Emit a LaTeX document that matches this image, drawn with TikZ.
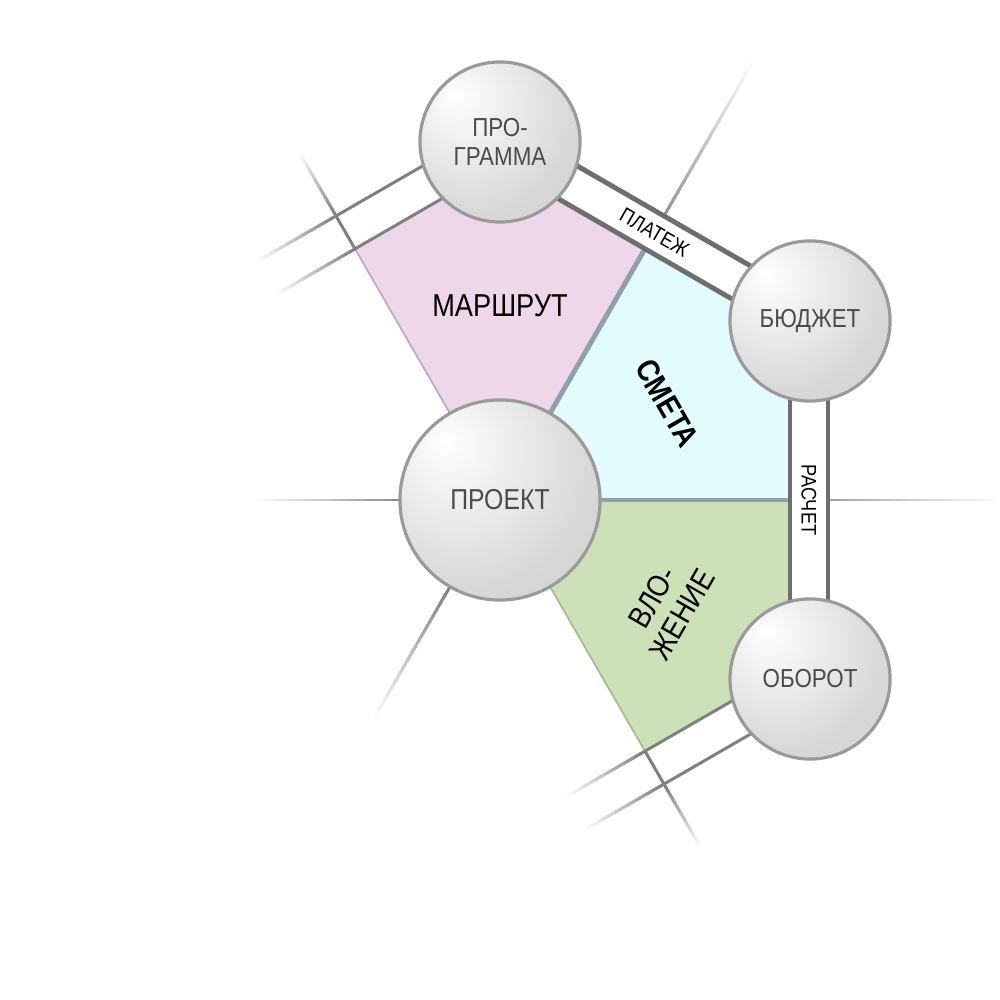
\documentclass[tikz,border=0pt]{standalone}
\usepackage{fontspec}
\setmainfont{Liberation Sans}[FakeStretch=0.86]
\usepackage{tikz}
\usetikzlibrary{calc}

\definecolor{pinkfill}{RGB}{237,215,233}
\definecolor{cyanfill}{RGB}{226,251,253}
\definecolor{greenfill}{RGB}{204,225,184}
\definecolor{sepcol}{RGB}{143,159,176}
\definecolor{pinkedge}{RGB}{196,168,194}
\definecolor{greenedge}{RGB}{163,189,147}
\definecolor{bandgray}{RGB}{128,128,128}
\definecolor{banddk}{RGB}{110,110,110}
\definecolor{orbline}{RGB}{154,154,154}
\definecolor{labelgray}{RGB}{75,75,75}

\pgfdeclareradialshading{orbshade}{\pgfpoint{-14bp}{15bp}}{gray(0bp)=(1); gray(8bp)=(0.96); gray(30bp)=(0.85); gray(72bp)=(0.74)}

\tikzset{
  orbnode/.style={circle, draw=orbline, line width=0.9pt, shade, shading=orbshade,
    minimum size=1.6cm, inner sep=0pt, align=center, text=labelgray,
    font=\fontsize{7.4}{8.3}\selectfont},
  sep/.style={draw=sepcol, line width=1.4pt},
  thinband/.style={draw=bandgray, line width=0.85pt},
  darkband/.style={draw=banddk, line width=1.4pt},
  zone/.style={text=black, font=\fontsize{9}{10}\selectfont, align=center},
  tag/.style={text=black, font=\fontsize{6}{7}\selectfont, inner sep=0pt}
}

% 渐隐线: 起点, 终点, 起点灰度
\newcommand\fadeln[4][0.85pt]{%
  \foreach \k in {0,...,19}{%
    \pgfmathsetmacro\ta{\k/20}%
    \pgfmathsetmacro\tb{min(1,(\k+1.6)/20)}%
    \pgfmathtruncatemacro\sh{#4*(20-\k)/20}%
    \draw[line width=#1, draw=black!\sh] ($#2!\ta!#3$) -- ($#2!\tb!#3$);
  }}

\begin{document}
\begin{tikzpicture}[x=0.01cm, y=0.01cm]
      \useasboundingbox (-500,-500) rectangle (500,500);
      
      %六边形的点
      \foreach \a in {0,60,120,300} {
      	\coordinate (m\a) at (\a:290);
      	\coordinate (o\a) at (\a:328);
      }
      \foreach \a in {30,90,330} {
      	\coordinate (v\a) at (\a:334.9);
      	\coordinate (ov\a) at (\a:378.7);
      }
      \coordinate (im120) at ($(m120)+(210:90)$);
      \coordinate (io120) at ($(o120)+(210:90)$);
      \coordinate (im300) at ($(m300)+(210:90)$);
      \coordinate (io300) at ($(o300)+(210:90)$);
      \coordinate (e120) at (120:400);
      \coordinate (e300) at (300:400);
      \coordinate (e60) at (60:505);
      \coordinate (e0) at (0:505);
      \coordinate (p180) at (180:101);
      \coordinate (p240) at (240:101);
      \coordinate (e180) at (180:245);
      \coordinate (e240) at (240:250);
      
      %三块区域
      \fill[pinkfill] (0,0) -- (m60) -- (v90) -- (m120) -- cycle;
      \fill[cyanfill] (0,0) -- (m0) -- (v30) -- (m60) -- cycle;
      \fill[greenfill] (0,0) -- (m300) -- (v330) -- (m0) -- cycle;
      \draw[pinkedge, line width=0.5pt] (0,0) -- (m120);
      \draw[greenedge, line width=0.5pt] (0,0) -- (m300);
      \draw[sep] (0,0) -- (m60);
      \draw[sep] (0,0) -- (m0);
      
      %外边的线
      \draw[thinband] (v90) -- (m120) -- (o120) -- (ov90);
      \draw[thinband] (v330) -- (m300) -- (o300) -- (ov330);
      \fadeln{(m120)}{(im120)}{50}
      \fadeln{(o120)}{(io120)}{50}
      \fadeln{(o120)}{(e120)}{50}
      \fadeln{(m300)}{(im300)}{50}
      \fadeln{(o300)}{(io300)}{50}
      \fadeln{(o300)}{(e300)}{50}
      \fadeln{(o60)}{(e60)}{42}
      \fadeln{(o0)}{(e0)}{36}
      \fadeln{(p180)}{(e180)}{45}
      \fadeln{(p240)}{(e240)}{50}
      
      %两条带子
      \fill[white] (v90) -- (v30) -- (ov30) -- (ov90) -- cycle;
      \draw[darkband] (v90) -- (v30) (ov90) -- (ov30);
      \fill[white] (v30) -- (v330) -- (ov330) -- (ov30) -- cycle;
      \draw[darkband] (v30) -- (v330) (ov30) -- (ov330);
      
      %圆
      \node[orbnode] (programma) at (90:358) {ПРО-\\ГРАММА};
      \node[orbnode] (budget) at (30:358) {БЮДЖЕТ};
      \node[orbnode] (oborot) at (-30:358) {ОБОРОТ};
      \node[orbnode, minimum size=2cm, font=\fontsize{8.2}{9}\selectfont] (proekt) at (0,0) {ПРОЕКТ};
      
      %文字
      \node[zone] (marshrut) at (90:194) {МАРШРУТ};
      \node[zone, font=\fontsize{9}{10}\selectfont\bfseries, rotate=-60] (smeta) at (30:193) {СМЕТА};
      \node[zone, font=\fontsize{8.8}{9.8}\selectfont, rotate=60] (vlozh) at (167,-106) {ВЛО-\\ЖЕНИЕ};
      \node[tag, rotate=-30] (platezh) at (60:309) {ПЛАТЕЖ};
      \node[tag, rotate=-90] (raschet) at (0:309) {РАСЧЕТ};
      
\end{tikzpicture}
\end{document}
